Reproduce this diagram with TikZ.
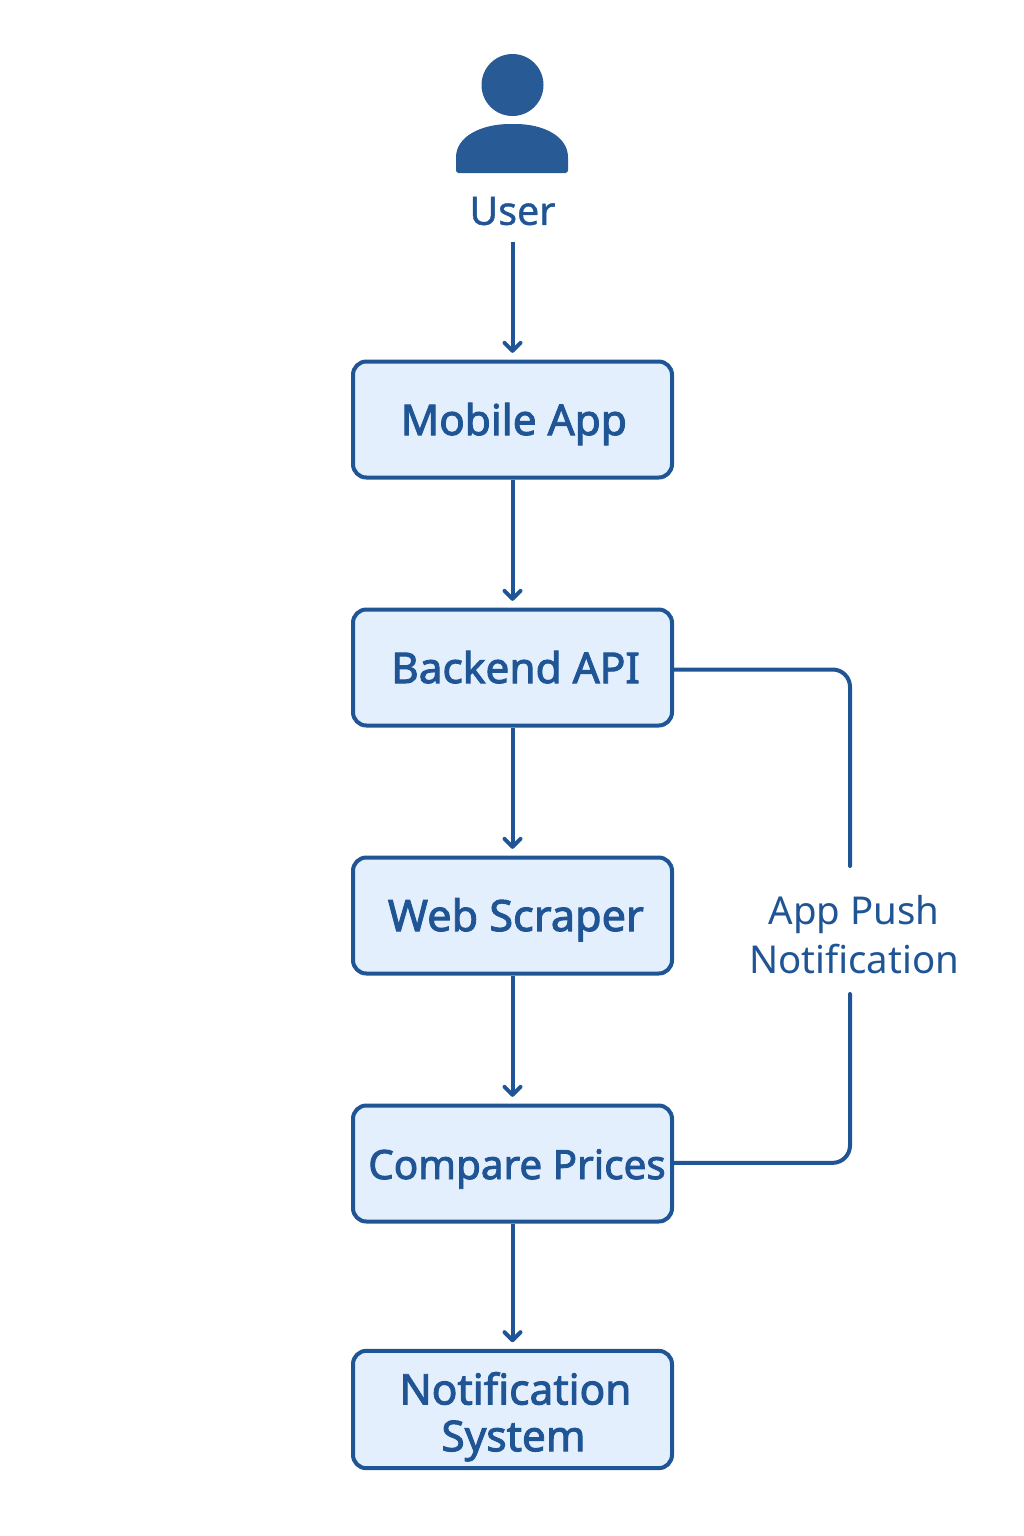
\documentclass[tikz,border=0pt]{standalone}
\usepackage{fontspec}
\setmainfont{Noto Sans}
\newfontfamily\boxfont[FakeBold=2.2]{Noto Sans}
\newfontfamily\userfont[FakeBold=1]{Noto Sans}
\usetikzlibrary{arrows.meta}
\definecolor{lineBlue}{HTML}{1F5495}
\definecolor{iconBlue}{HTML}{285A96}
\definecolor{boxBlue}{HTML}{E3EFFC}

\begin{document}
\begin{tikzpicture}[x=0.75pt,y=0.75pt,>={Straight Barb[length=6pt,width=12pt,round]}]
  \tikzstyle{stage} = [draw=lineBlue, line width=3pt, fill=boxBlue, rectangle, rounded corners=10pt, minimum height=87pt, minimum width=239.25pt, inner xsep=0pt, align=center, node distance=186pt, text=lineBlue, text height=28.5pt, text depth=5.2pt, font={\boxfont\fontsize{31.8}{35}\selectfont}]
  \tikzstyle{stageEdge} = [lineBlue, line width=3pt, ->, shorten >=5pt];
  \tikzstyle{pushEdge} = [lineBlue, line width=3pt, line cap=round, rounded corners=13pt];
  \tikzstyle{edgeLabel} = [text=lineBlue, align=center, font={\fontsize{28.8}{36.75}\selectfont}];

  \useasboundingbox (0,0) rectangle (1024,-1536);

  % the person on top
  \node[circle, fill=iconBlue, minimum size=46.5pt, inner sep=0pt] (head) at (512.5,-85) {};
  \fill[iconBlue, rounded corners=2pt] (456,-173) -- (456,-160)
    .. controls (456,-136) and (482,-124) .. (512.5,-124)
    .. controls (543,-124) and (568,-136) .. (568,-160) -- (568,-173) -- cycle;
  \node[edgeLabel, font={\userfont\fontsize{29.5}{32}\selectfont}, inner sep=0pt] (user) at (512.5,-211) {User};

  \node[stage] (app) at (512.5,-419.5) {\kern2pt Mobile App};
  \node[stage] (api) [below of=app] {\kern4.5pt Backend API};
  \node[stage, font={\boxfont\fontsize{32.4}{35}\selectfont}] (scraper) [below of=api] {\kern5pt Web Scraper};
  \node[stage, font={\boxfont\fontsize{30.3}{35}\selectfont}] (compare) [below of=scraper] {\kern6.8pt Compare Prices};
  \node[stage, minimum height=88pt, text height=68pt, text depth=5.5pt] (notify) [below of=compare, yshift=1.5pt] {\kern4.5pt Notification\\\kern1.5pt System};

  \node[edgeLabel] (push) at (854,-935) {App Push\\Notification};
  \coordinate (pushTop) at (850,-866);
  \coordinate (pushBottom) at (850,-994);

  \draw[stageEdge, shorten <=12pt] (user) -- (app);
  \draw[stageEdge] (app) -- (api);
  \draw[stageEdge] (api) -- (scraper);
  \draw[stageEdge] (scraper) -- (compare);
  \draw[stageEdge] (compare) -- (notify);

  \draw[pushEdge] ([yshift=-1.5pt]api.east) -| (pushTop);
  \draw[pushEdge] ([yshift=0.5pt]compare.east) -| (pushBottom);
\end{tikzpicture}
\end{document}
